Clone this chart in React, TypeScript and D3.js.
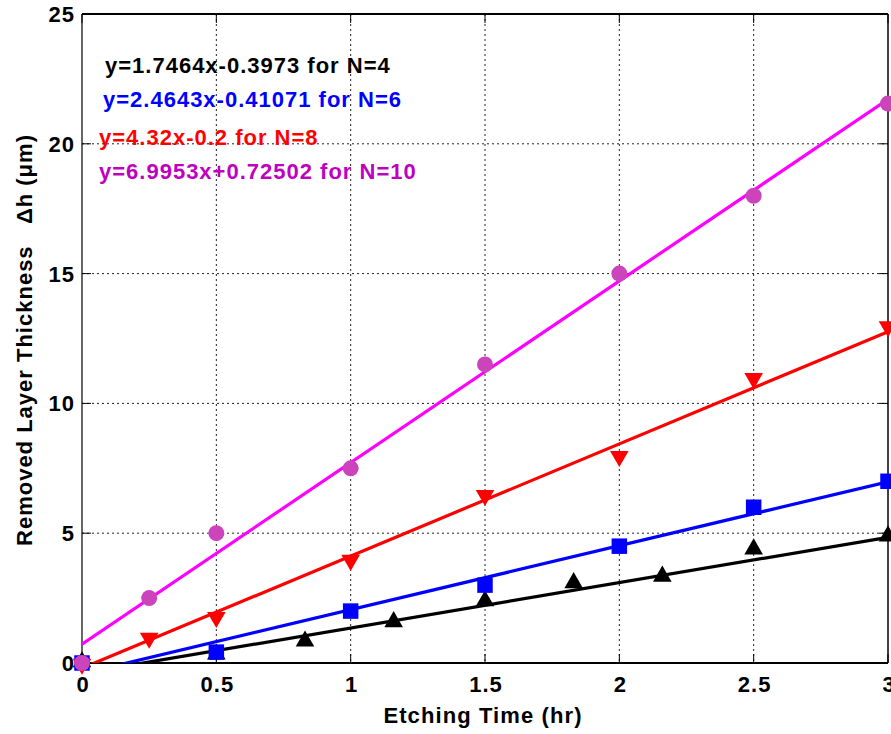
import React from 'react';
import * as d3 from 'd3';

// measured data, Δh vs etching time
const xN10 = [0, 0.25, 0.5, 1, 1.5, 2, 2.5, 3];
const yN10 = [0, 2.5, 5, 7.5, 11.5, 15, 18, 21.55];

const xN8 = [0, 0.25, 0.5, 1, 1.5, 2, 2.5, 3];
const yN8 = [0, 1, 1.8, 4, 6.5, 8, 11, 13];

const xN6 = [0, 0.5, 1, 1.5, 2, 2.5, 3];
const yN6 = [0, 0.42, 2, 3, 4.5, 6, 7];

const xN4 = [0, 0.5, 0.83, 1.16, 1.5, 1.83, 2.16, 2.5, 3];
const yN4 = [0, 0.3, 0.8, 1.55, 2.35, 3.05, 3.3, 4.35, 4.85];

// linear fits: slope, intercept
const fits = [
  { label: 'y=1.7464x-0.3973 for N=4', a: 1.7464, b: -0.3973, color: '#000000', text: '#000000' },
  { label: 'y=2.4643x-0.41071 for N=6', a: 2.4643, b: -0.41071, color: '#0000ff', text: '#0000ff' },
  { label: 'y=4.32x-0.2 for N=8', a: 4.32, b: -0.2, color: '#ff0000', text: '#ff0000' },
  { label: 'y=6.9953x+0.72502 for N=10', a: 6.9953, b: 0.72502, color: '#ff00ff', text: '#c000c0' },
];

const xTicks = [0, 0.5, 1, 1.5, 2, 2.5, 3];
const yTicks = [0, 5, 10, 15, 20, 25];

const W = 891;
const H = 734;
const m = { left: 82, right: 888, top: 14, bottom: 663 };
const font = '"Liberation Sans", Arial, sans-serif';

const x = d3.scaleLinear().domain([0, 3]).range([m.left, m.right]);
const y = d3.scaleLinear().domain([0, 25]).range([m.bottom, m.top]);

const tri = d3.symbol().type(d3.symbolTriangle).size(150);
const sq = d3.symbol().type(d3.symbolSquare).size(240);

export default function App() {
  const labelPos = [
    { x: 105, y: 73 },
    { x: 103, y: 107 },
    { x: 99, y: 145 },
    { x: 99, y: 179 },
  ];

  return (
    <svg width={W} height={H} style={{ position: 'absolute', left: 0, top: 0, overflow: 'hidden' }}>
      <defs>
        <clipPath id="plot">
          <rect x={m.left} y={m.top} width={m.right - m.left} height={m.bottom - m.top} />
        </clipPath>
      </defs>
      <rect width={W} height={H} fill="#fff" />

      {/* grid */}
      <g stroke="#222" strokeWidth={1} strokeDasharray="2,3">
        {xTicks.slice(1, -1).map((t) => (
          <line key={'gx' + t} x1={x(t)} x2={x(t)} y1={m.top} y2={m.bottom} />
        ))}
        {yTicks.slice(1).map((t) => (
          <line key={'gy' + t} x1={m.left} x2={m.right} y1={y(t)} y2={y(t)} />
        ))}
      </g>

      {/* box + inward ticks */}
      <g stroke="#000" fill="none">
        <line x1={m.left} x2={m.left} y1={m.top} y2={m.bottom} strokeWidth={1.2} />
        <line x1={m.right} x2={m.right} y1={m.top} y2={m.bottom} strokeWidth={1.5} />
        <line x1={m.left} x2={m.right} y1={m.top} y2={m.top} strokeWidth={2} />
        <line x1={m.left} x2={m.right} y1={m.bottom} y2={m.bottom} strokeWidth={2} />
        {xTicks.map((t) => (
          <g key={'tx' + t}>
            <line x1={x(t)} x2={x(t)} y1={m.bottom} y2={m.bottom - 9} />
            <line x1={x(t)} x2={x(t)} y1={m.top} y2={m.top + 9} />
          </g>
        ))}
        {yTicks.map((t) => (
          <g key={'ty' + t}>
            <line x1={m.left} x2={m.left + 9} y1={y(t)} y2={y(t)} />
            <line x1={m.right} x2={m.right - 9} y1={y(t)} y2={y(t)} />
          </g>
        ))}
      </g>

      {/* fit lines */}
      <g clipPath="url(#plot)" fill="none" strokeWidth={3.2}>
        {fits.map((f) => {
          const p = d3
            .line<number>()
            .x((d) => x(d))
            .y((d) => y(f.a * d + f.b))([0, 3]);
          return <path key={f.label} d={p || ''} stroke={f.color} />;
        })}
      </g>

      {/* markers */}
      <g>
        {xN4.map((d, i) => (
          <path key={'k' + i} d={tri() || ''} transform={`translate(${x(d)},${y(yN4[i]) - 1})`} fill="#000" />
        ))}
        {xN6.map((d, i) => (
          <path key={'b' + i} d={sq() || ''} transform={`translate(${x(d)},${y(yN6[i])})`} fill="#0000ff" />
        ))}
        {xN8.map((d, i) => (
          <path
            key={'r' + i}
            d={tri() || ''}
            transform={`translate(${x(d)},${y(yN8[i]) + 1}) rotate(180)`}
            fill="#ff0000"
          />
        ))}
        {xN10.map((d, i) => (
          <circle key={'m' + i} cx={x(d)} cy={y(yN10[i])} r={8} fill="#cc44bb" />
        ))}
      </g>

      {/* tick labels */}
      <g fontFamily={font} fontWeight="bold" fontSize={22} letterSpacing={1} fill="#000">
        {xTicks.map((t) => (
          <text key={'lx' + t} x={x(t) + 1} y={692} textAnchor="middle">
            {t}
          </text>
        ))}
        {yTicks.map((t) => (
          <text key={'ly' + t} x={m.left - 7} y={y(t) + 8} textAnchor="end">
            {t}
          </text>
        ))}
      </g>

      {/* axis titles */}
      <text
        x={483}
        y={723}
        textAnchor="middle"
        fontFamily={font}
        fontWeight="bold"
        fontSize={22}
        letterSpacing={1.1}
      >
        Etching Time (hr)
      </text>
      <text
        transform="translate(32,340) rotate(-90)"
        textAnchor="middle"
        fontFamily={font}
        fontWeight="bold"
        fontSize={22}
        letterSpacing={1}
        xmlSpace="preserve"
      >
        {'Removed Layer Thickness   Δh (μm)'}
      </text>

      {/* fit equations */}
      <g fontFamily={font} fontWeight="bold" fontSize={22} letterSpacing={1}>
        {fits.map((f, i) => (
          <text key={'eq' + i} x={labelPos[i].x} y={labelPos[i].y} fill={f.text}>
            {f.label}
          </text>
        ))}
      </g>
    </svg>
  );
}
